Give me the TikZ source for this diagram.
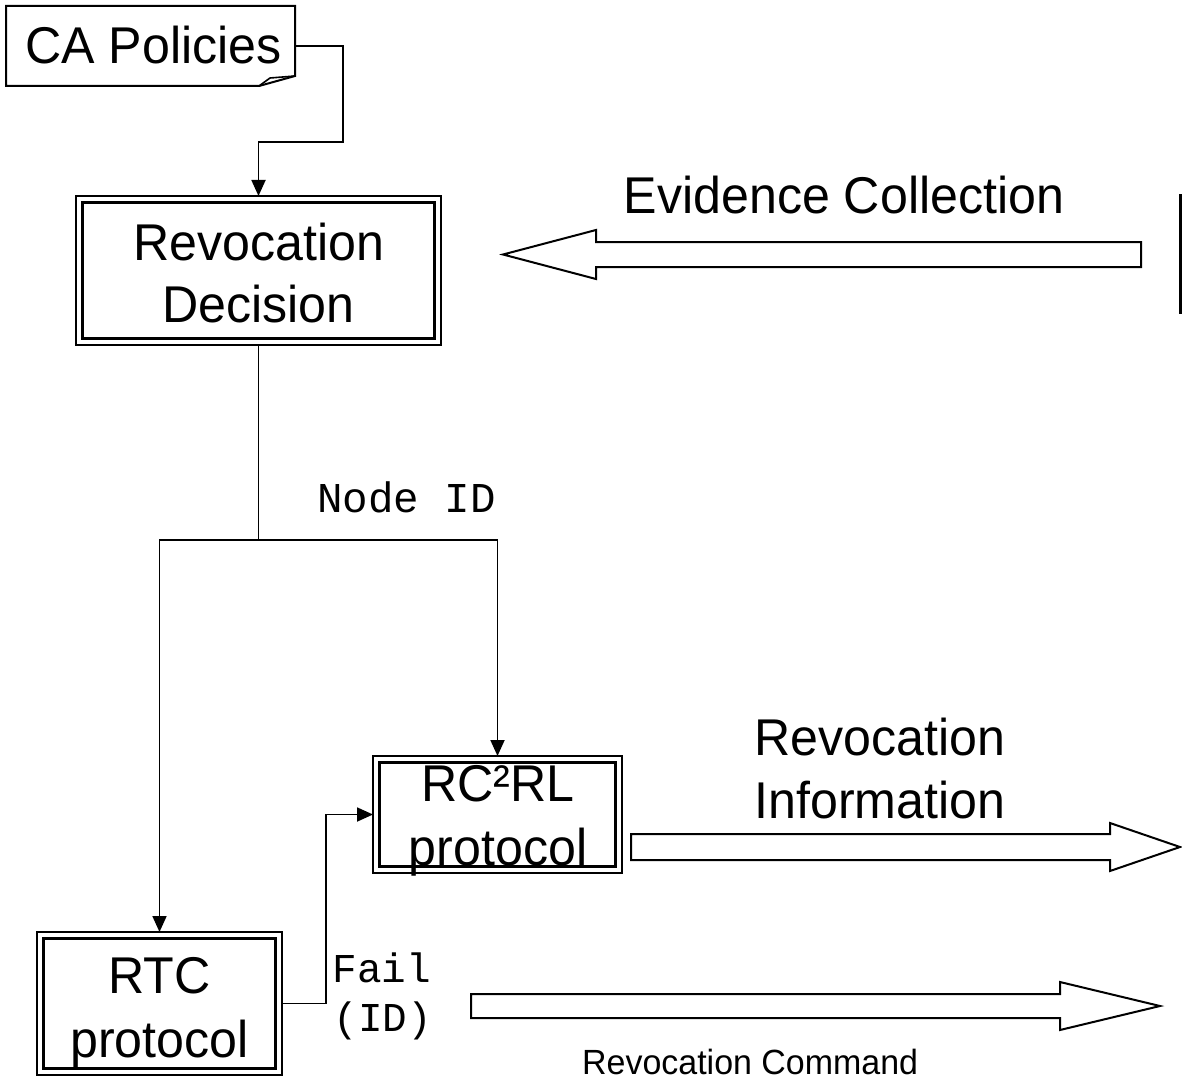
\documentclass[tikz,border=0pt]{standalone}
\usepackage{fontspec}
\setmainfont{Liberation Sans}[FakeStretch=0.97]
\newfontfamily\codefont{Liberation Mono}
\usetikzlibrary{arrows.meta,calc}

\begin{document}
\begin{tikzpicture}[x=1pt,y=-1pt,
  wire/.style={line width=1.8pt, line join=miter},
  tip/.style={-{Triangle[length=16pt,width=14pt]}},
  dbox/.style={draw, line width=2.2pt, inner sep=0pt, outer sep=0pt},
  innerline/.style={line width=3pt},
  hollow/.style={draw, line width=2pt, fill=white, line join=miter},
  big/.style={inner sep=0pt, align=center, font=\fontsize{51.7pt}{62pt}\selectfont},
  code/.style={inner sep=0pt, font=\codefont\fontsize{41pt}{49pt}\selectfont},
]
\path[fill=white] (0,0) rectangle (1182,1086);
\useasboundingbox (0,0) rectangle (1182,1086);

% policy note with a folded corner
\node[inner sep=0pt, outer sep=0pt, minimum width=289pt, minimum height=80pt] (ca) at (150.5,46) {};
\draw[line width=2pt, line join=miter]
  (ca.north west) -- (ca.north east) -- ([shift={(0,-10)}]ca.south east)
  -- ([shift={(-36,0)}]ca.south east) -- (ca.south west) -- cycle;
\draw[line width=1.6pt, line join=round]
  ([shift={(-36,0)}]ca.south east) -- ([shift={(-25,-8)}]ca.south east)
  -- ([shift={(0,-10)}]ca.south east);
\node[big, anchor=base] (catext) at (153.5,64) {CA Policies};

% double-framed process boxes
\node[dbox, minimum width=365pt, minimum height=149pt] (rd) at (258.5,270.5) {};
\node[dbox, minimum width=249pt, minimum height=117pt] (rc) at (497.5,814.5) {};
\node[dbox, minimum width=245pt, minimum height=143pt] (rtc) at (159.5,1003.5) {};
\foreach \n in {rd,rc,rtc}
  \draw[innerline] ([shift={(6.5,6.5)}]\n.north west) rectangle ([shift={(-6.5,-6.5)}]\n.south east);

\node[big] (rdtext) at (258.5,272.9) {Revocation\\Decision};
\node[big, font=\fontsize{51.7pt}{64pt}\selectfont] (rctext) at (498,821) {RC²RL\\protocol};
\node[big, font=\fontsize{51.7pt}{64pt}\selectfont] (rtctext) at (159.5,1013) {RTC\\protocol};

% control flow
\draw[wire, tip] (ca.east) -| (343,142) -| (rd.north);
\coordinate (split) at (258.5,540);
\draw[wire] (rd.south) -- (split);
\draw[wire, tip] (split) -| (rtc.north);
\draw[wire, tip] (split) -| (rc.north);
\draw[wire, tip] (rtc.east) -- ++(44,0) |- (rc.west);

\node[code, anchor=base, font=\codefont\fontsize{42.5pt}{50pt}\selectfont] (nodeid) at (406.5,512) {Node ID};
\node[code, anchor=base] (fail) at (382,982) {Fail};
\node[code, anchor=base] (failid) at (383,1031) {(ID)};

% block arrows
\draw[hollow] (1141,242) -- (596,242) -- (596,230) -- (503,254.5) -- (596,279) -- (596,267) -- (1141,267) -- cycle;
\draw[hollow] (631,834) -- (1110,834) -- (1110,823) -- (1180,847) -- (1110,871) -- (1110,860) -- (631,860) -- cycle;
\draw[hollow] (471,994) -- (1060,994) -- (1060,982) -- (1160,1006) -- (1060,1030) -- (1060,1018) -- (471,1018) -- cycle;

% edge of the evidence source
\draw[line width=3pt] (1180,194) -- (1180,314);

\node[big, anchor=base] (evid) at (844,213) {Evidence Collection};
\node[big, font=\fontsize{51.7pt}{63pt}\selectfont] (info) at (880,768.4) {Revocation\\Information};
\node[inner sep=0pt, anchor=base west, font=\fontsize{35pt}{42pt}\selectfont] (cmd) at (582,1074) {Revocation Command};
\end{tikzpicture}
\end{document}
